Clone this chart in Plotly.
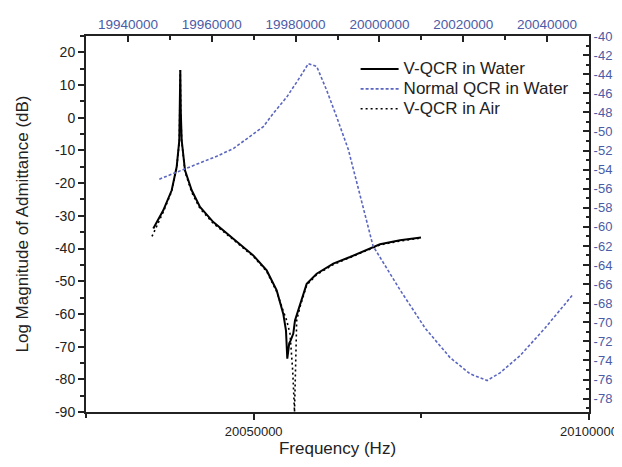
import plotly.graph_objects as go

# ---- data ----
water_freq = [20035034, 20036525, 20037778, 20038523, 20038911, 20039000, 20039060, 20039130,
              20039269, 20039761, 20040760, 20041997, 20043980, 20046962, 20049944, 20051942,
              20053433, 20054417, 20054820, 20055014, 20055300, 20055521, 20055908, 20056162,
              20057161, 20057906, 20059397, 20061872, 20064362, 20068835, 20071817, 20074949]
water_db = [-33.9, -28.3, -22.2, -15.0, -6.9, 5.0, 14.6, 2.0,
            -6.9, -16.1, -22.2, -27.3, -31.9, -37.0, -42.1, -46.7,
            -52.8, -60.0, -65.1, -73.7, -69.0, -68.1, -66.0, -62.0,
            -55.9, -50.8, -47.7, -44.6, -42.6, -38.7, -37.5, -36.6]

air_freq = [20034840, 20035600, 20036525, 20037778, 20038523, 20038911, 20039000, 20039060,
            20039130, 20039269, 20039761, 20040760, 20041997, 20043980, 20046962, 20049944,
            20051942, 20053433, 20054373, 20054924, 20055416, 20055670, 20055819, 20055908,
            20056058, 20056088, 20056415, 20056907, 20057906, 20059397, 20061872, 20064362,
            20068835, 20071817, 20074949]
air_db = [-36.3, -33.0, -28.8, -22.5, -15.3, -7.5, 4.5, 14.5,
          1.5, -7.2, -16.5, -22.8, -27.8, -32.3, -37.3, -42.4,
          -47.0, -53.2, -58.9, -62.0, -66.0, -72.1, -77.3, -81.3,
          -86.5, -90.0, -62.0, -57.9, -51.2, -48.0, -44.9, -42.8,
          -38.9, -37.7, -36.8]

normal_freq = [19947489, 19953216, 19957200, 19961185, 19965146, 19969130, 19972304, 19974690,
               19977887, 19981060, 19983041, 19985045, 19987431, 19989817, 19992585, 19998478,
               20004920, 20010885, 20016850, 20021622, 20025679, 20028780, 20033552, 20039517,
               20045960]
normal_db = [-55.0, -54.0, -53.3, -52.6, -51.8, -50.5, -49.5, -48.1,
             -46.4, -44.3, -42.9, -43.2, -45.7, -48.5, -51.9, -62.0,
             -66.6, -70.6, -73.7, -75.4, -76.1, -75.3, -73.5, -70.6,
             -67.2]

series_names = ["V-QCR in Water", "Normal QCR in Water", "V-QCR in Air"]

bottom_ticks = [20050000, 20100000]
bottom_labels = ["20050000", "20100000"]
top_ticks = [19940000, 19960000, 19980000, 20000000, 20020000, 20040000]
top_labels = ["19940000", "19960000", "19980000", "20000000", "20020000", "20040000"]
left_ticks = [20, 10, 0, -10, -20, -30, -40, -50, -60, -70, -80, -90]
left_labels = ["20", "10", "0", "-10", "-20", "-30", "-40", "-50", "-60", "-70", "-80", "-90"]
right_ticks = list(range(-78, -39, 2))
right_labels = [str(v) for v in right_ticks]

FONT = "Liberation Sans, Arial, sans-serif"
BLUE_TXT = "#4b5ba6"
BLUE_LINE = "#5b66c0"
AX = "#222222"


def legend_label(s):
    return '<span style="font-size:17px">' + s + '</span>'


fig = go.Figure()
fig.add_trace(go.Scatter(x=water_freq, y=water_db, mode="lines", name=legend_label(series_names[0]),
                         line=dict(color="black", width=2), xaxis="x", yaxis="y"))
fig.add_trace(go.Scatter(x=normal_freq, y=normal_db, mode="lines", name=legend_label(series_names[1]),
                         line=dict(color=BLUE_LINE, width=1.6, dash="3px,2px"), xaxis="x2", yaxis="y2"))
fig.add_trace(go.Scatter(x=air_freq, y=air_db, mode="lines", name=legend_label(series_names[2]),
                         line=dict(color="black", width=1.6, dash="2px,3px"), xaxis="x", yaxis="y"))

# the page body has an 8px default margin, so the figure is sized to fit the 622x467 window
fig.update_layout(
    width=614, height=459, autosize=False,
    margin=dict(l=78, r=33, t=28, b=55, autoexpand=False),
    paper_bgcolor="white", plot_bgcolor="white",
    font=dict(family=FONT, size=14, color="#222"),
    showlegend=True,
    legend=dict(x=0.536, y=0.952, xanchor="left", yanchor="top", bgcolor="rgba(0,0,0,0)",
                font=dict(size=13, color="#222"), tracegroupgap=0, itemwidth=38),
    xaxis=dict(range=[20025000, 20100000], tickvals=bottom_ticks, ticktext=bottom_labels,
               ticks="outside", ticklen=6, tickwidth=1.5, tickcolor=AX, automargin=False,
               minor=dict(dtick=25000, tick0=20000000, ticks="outside", ticklen=4, tickcolor=AX),
               showline=True, linecolor=AX, linewidth=2, showgrid=False, zeroline=False,
               tickfont=dict(size=13, color="#222"),
               title=dict(text="Frequency (Hz)", font=dict(size=17, color="#222"), standoff=3)),
    xaxis2=dict(range=[19930000, 20050000], overlaying="x", side="top", anchor="y",
                tickvals=top_ticks, ticktext=top_labels, automargin=False,
                ticks="inside", ticklen=6, tickwidth=1.5, tickcolor=AX,
                minor=dict(dtick=10000, tick0=19930000, ticks="inside", ticklen=4, tickcolor=AX),
                showline=True, linecolor=AX, linewidth=2, showgrid=False, zeroline=False,
                tickfont=dict(size=13.5, color=BLUE_TXT)),
    yaxis=dict(range=[-90, 25], tickvals=left_ticks, ticktext=left_labels, automargin=False,
               ticks="outside", ticklen=6, tickwidth=1.5, tickcolor=AX,
               minor=dict(dtick=5, tick0=-90, ticks="outside", ticklen=4, tickcolor=AX),
               showline=True, linecolor=AX, linewidth=2, showgrid=False, zeroline=False,
               tickfont=dict(size=14, color="#222"),
               title=dict(text="Log Magnitude of Admittance (dB)", font=dict(size=17, color="#222"), standoff=22)),
    yaxis2=dict(range=[-79.4, -40], overlaying="y", side="right", anchor="x",
                tickvals=right_ticks, ticktext=right_labels, automargin=False,
                ticks="inside", ticklen=6, tickwidth=1.5, tickcolor=AX,
                minor=dict(dtick=1, tick0=-80, ticks="inside", ticklen=3, tickcolor=AX),
                showline=True, linecolor=AX, linewidth=2, showgrid=False, zeroline=False,
                tickfont=dict(size=13, color=BLUE_TXT)),
)

fig.write_html("out.html")
